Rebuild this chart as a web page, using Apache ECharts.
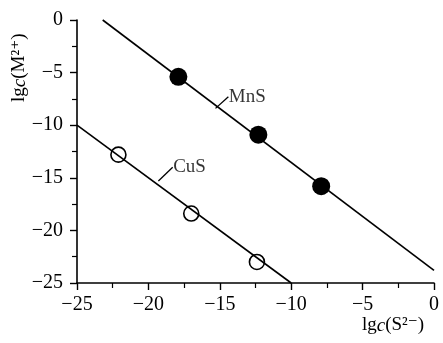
<!DOCTYPE html>
<html>
<head>
<meta charset="utf-8">
<script src="https://cdn.jsdelivr.net/npm/echarts@6/dist/echarts.min.js"></script>
<style>
  html, body { margin: 0; padding: 0; background: #fff; }
  #main { width: 443px; height: 343px; }
</style>
</head>
<body>
<div id="main"></div>
<script>
// values (x = lgc(S2-), y = lgc(M2+))
var mnsLine = [[-23.2, 0], [0, -23.8]];
var mnsPoints = [[-17.9, -5.4], [-12.3, -10.9], [-7.9, -15.8]];
var cusLine = [[-25, -10], [-10, -25]];
var cusPoints = [[-22.1, -12.8], [-17.0, -18.4], [-12.4, -23.0]];
var mnsLeader = [[-15.3, -8.4], [-14.4, -7.3]];
var cusLeader = [[-19.3, -15.3], [-18.3, -14.0]];
var xTicks = [-25, -20, -15, -10, -5, 0];
var yTicks = [-25, -20, -15, -10, -5, 0];

var serif = '"Liberation Serif", "DejaVu Serif", serif';
var ink = '#000';

function fmt(v) { return v < 0 ? '\u2212' + Math.abs(v) : String(v); }

var chart = echarts.init(document.getElementById('main'));

var axisCommon = {
  axisLine: { show: true, onZero: false, lineStyle: { color: ink, width: 1.6 } },
  axisTick: { show: true, inside: false, length: 7, lineStyle: { color: ink, width: 1.4 } },
  minorTick: { show: true, splitNumber: 2, length: 5, lineStyle: { color: ink, width: 1.2 } },
  splitLine: { show: false },
  axisLabel: { color: ink, fontFamily: serif, fontSize: 20, formatter: fmt }
};

function leaderSeries(data, text) {
  return [{
    type: 'line',
    data: data,
    symbol: 'none',
    silent: true,
    lineStyle: { color: ink, width: 1.3 }
  }, {
    type: 'scatter',
    data: [data[1]],
    symbolSize: 1,
    itemStyle: { color: 'rgba(0,0,0,0)' },
    silent: true,
    label: {
      show: true, position: 'right', distance: 0, formatter: text,
      color: ink, fontFamily: serif, fontSize: 19
    }
  }];
}

chart.setOption({
  animation: false,
  grid: { left: 77, right: 9, top: 20, bottom: 60, containLabel: false },
  xAxis: Object.assign({}, axisCommon, {
    type: 'value', min: xTicks[0], max: xTicks[xTicks.length - 1], interval: 5,
    axisLabel: Object.assign({}, axisCommon.axisLabel, { margin: 12 })
  }),
  yAxis: Object.assign({}, axisCommon, {
    type: 'value', min: yTicks[0], max: yTicks[yTicks.length - 1], interval: 5,
    axisLabel: Object.assign({}, axisCommon.axisLabel, { margin: 14 })
  }),
  series: [
    { type: 'line', data: mnsLine, symbol: 'none', clip: false, lineStyle: { color: ink, width: 1.6 } },
    { type: 'line', data: cusLine, symbol: 'none', clip: false, lineStyle: { color: ink, width: 1.6 } },
    { type: 'scatter', data: mnsPoints, symbolSize: 18, itemStyle: { color: ink, opacity: 1 } },
    { type: 'scatter', data: cusPoints, symbolSize: 15,
      itemStyle: { color: 'rgba(0,0,0,0)', borderColor: ink, borderWidth: 1.6, opacity: 1 } }
  ].concat(leaderSeries(mnsLeader, 'MnS'), leaderSeries(cusLeader, 'CuS')),
  graphic: [
    {
      type: 'text', x: 10, y: 102, rotation: Math.PI / 2,
      style: {
        text: '{a|lg}{b|c}{a|(M\u00b2\u207a)}',
        rich: {
          a: { fontFamily: serif, fontSize: 19, fill: ink },
          b: { fontFamily: serif, fontSize: 19, fontStyle: 'italic', fill: ink }
        }
      }
    },
    {
      type: 'text', x: 362, y: 316,
      style: {
        text: '{a|lg}{b|c}{a|(S\u00b2\u207b)}',
        rich: {
          a: { fontFamily: serif, fontSize: 19, fill: ink },
          b: { fontFamily: serif, fontSize: 19, fontStyle: 'italic', fill: ink }
        }
      }
    }
  ]
});
</script>
</body>
</html>
